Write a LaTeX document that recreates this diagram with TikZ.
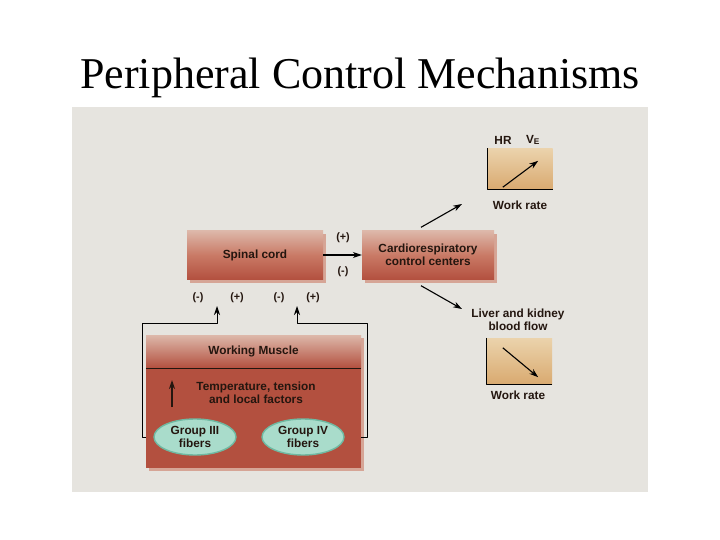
\documentclass[tikz,border=0pt]{standalone}
\usepackage{fontspec}
\setmainfont{Liberation Serif}
\setsansfont{Liberation Sans}
\usepackage{tikz}
\usetikzlibrary{arrows.meta,calc,shadows,shapes.geometric}
\definecolor{panelgray}{HTML}{E6E4DF}
\definecolor{boxtop}{HTML}{DDB8AA}
\definecolor{boxmid}{HTML}{C97A66}
\definecolor{boxred}{HTML}{B3503F}
\definecolor{bevel}{HTML}{D6A596}
\definecolor{fibermint}{HTML}{A9DCCB}
\definecolor{fiberrim}{HTML}{6FB9A2}
\definecolor{graphtop}{HTML}{EBD3AC}
\definecolor{graphbot}{HTML}{D9AA70}
\definecolor{inkdark}{HTML}{24160F}

\begin{document}
\begin{tikzpicture}[x=1pt,y=-1pt,>={Stealth[length=9pt,width=6pt]},line join=round,
  lbl/.style={font=\sffamily\bfseries\fontsize{11.8}{12.6}\selectfont,text=inkdark,align=center},
  sign/.style={font=\sffamily\bfseries\fontsize{10.8}{12}\selectfont,text=inkdark},
  redbox/.style={rectangle,inner sep=0pt,top color=boxtop,bottom color=boxred,middle color=boxmid,
    drop shadow={shadow xshift=3pt,shadow yshift=-3pt,fill=bevel,opacity=1}},
  fiber/.style={ellipse,minimum width=82pt,minimum height=36pt,inner sep=0pt,fill=fibermint,draw=fiberrim,line width=1.4pt},
  graphbox/.style={rectangle,inner sep=0pt,top color=graphtop,bottom color=graphbot},
  axisline/.style={line width=1.1pt,black},
  feed/.style={black,line width=0.9pt},
  link/.style={->,black,line width=1.1pt}]
  \useasboundingbox (0,0) rectangle (720,540);
  \fill[panelgray] (72,107) rectangle (648,492);
  \node[font=\fontsize{44}{50}\selectfont,anchor=base] (title) at (360,89) {Peripheral Control Mechanisms};
  % spinal cord and control centers
  \node[redbox,lbl,minimum width=136pt,minimum height=49pt] (spinal) at (255,255) {Spinal cord};
  \node[redbox,lbl,minimum width=132pt,minimum height=49pt] (cardio) at (428,255) {Cardiorespiratory\\control centers};
  \draw[link] (spinal.east) -- (cardio.west);
  \node[sign] (sp) at (343,238) {(+)};
  \node[sign] (sm) at (343,272) {(-)};
  % working muscle
  \node[rectangle,inner sep=0pt,fill=boxred,minimum width=215pt,minimum height=133pt,
    drop shadow={shadow xshift=3pt,shadow yshift=-3pt,fill=bevel,opacity=1}] (muscle) at (253.5,401.5) {};
  \node[rectangle,inner sep=0pt,top color=boxtop,bottom color=boxred,minimum width=215pt,minimum height=33pt,
    anchor=north,lbl] (mhead) at (muscle.north) {Working Muscle};
  \draw[line width=1.2pt,inkdark] (mhead.south west) -- (mhead.south east);
  \node[lbl] (temp) at (256,393) {Temperature, tension\\and local factors};
  \coordinate (tbase) at (172,407);
  \coordinate (ttop) at (172,380);
  \draw[->,line width=1.4pt,inkdark] (tbase) -- (ttop);
  \node[fiber,lbl] (g3) at (195,437) {Group III\\fibers};
  \node[fiber,lbl] (g4) at (303,437) {Group IV\\fibers};
  % afferent feedback
  \coordinate (k3) at (142,323);
  \coordinate (k4) at (367,323);
  \coordinate (in3) at (217,306);
  \coordinate (in4) at (297,306);
  \draw[feed,->] (g3 -| muscle.west) -| (k3) -| (in3);
  \draw[feed,->] (g4 -| muscle.east) -| (k4) -| (in4);
  \node[sign] (m3) at (198,298) {(-)};
  \node[sign] (p3) at (237,298) {(+)};
  \node[sign] (m4) at (279,298) {(-)};
  \node[sign] (p4) at (313,298) {(+)};
  % heart rate and ventilation
  \coordinate (hrin) at (462,204);
  \draw[link] ($(cardio.north)+(-7,-3)$) -- (hrin);
  \node[lbl] (hr) at (503,140) {HR};
  \node[lbl] (ve) at (533,140) {V\textsubscript{E}};
  \node[graphbox,minimum width=65pt,minimum height=41pt] (hrplot) at (520,169) {};
  \draw[axisline] (hrplot.north west) -- (hrplot.south west) -- (hrplot.south east);
  \draw[link] ($(hrplot.south west)+(15.5,-2.5)$) -- ($(hrplot.north east)+(-14.5,12.5)$);
  \node[lbl] (wr1) at (520,205) {Work rate};
  % liver and kidney blood flow
  \coordinate (flowin) at (462,309);
  \draw[link] ($(cardio.south)+(-7,6)$) -- (flowin);
  \node[lbl] (flow) at (518,320) {Liver and kidney\\blood flow};
  \node[graphbox,minimum width=65pt,minimum height=46pt] (flowplot) at (519.5,361) {};
  \draw[axisline] (flowplot.north west) -- (flowplot.south west) -- (flowplot.south east);
  \draw[link] ($(flowplot.north west)+(16,10)$) -- ($(flowplot.south east)+(-14,-7)$);
  \node[lbl] (wr2) at (518,395) {Work rate};
\end{tikzpicture}
\end{document}
